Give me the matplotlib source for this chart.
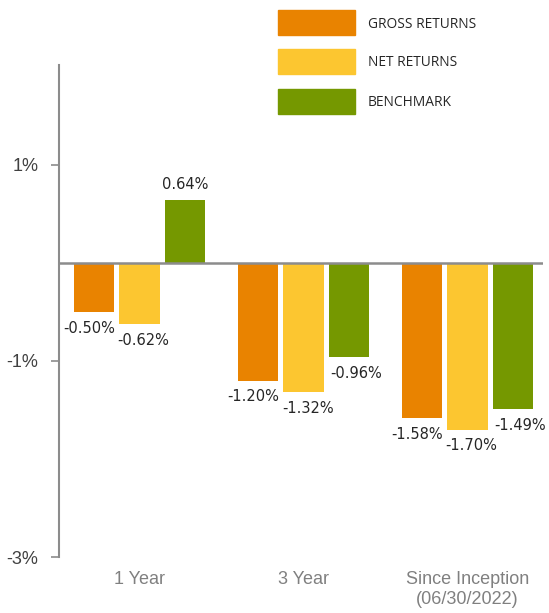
import matplotlib
matplotlib.use("Agg")
from matplotlib import pyplot as plt
from matplotlib.patches import Rectangle
import numpy as np

categories = ["1 Year", "3 Year", "Since Inception\n(06/30/2022)"]
series = ["GROSS RETURNS", "NET RETURNS", "BENCHMARK"]
gross = [-0.50, -1.20, -1.58]
net = [-0.62, -1.32, -1.70]
bench = [0.64, -0.96, -1.49]
colors = ["#E98300", "#FCC630", "#759800"]

fig = plt.figure(figsize=(5.49, 6.13), dpi=100)
ax = fig.add_axes([59/549, 56/613, 484/549, 492/613])

x = np.arange(len(categories))
w = 0.245
off = 0.276
nudge = [-0.03, 0.025, 0.045]
for i, vals in enumerate([gross, net, bench]):
    xs = x + (i - 1) * off
    ax.bar(xs, vals, width=w, color=colors[i], zorder=2)
    for xi, v in zip(xs, vals):
        if v >= 0:
            ax.text(xi, v + 0.08, f"{v:.2f}%", ha="center", va="bottom",
                    fontsize=10.5, color="#262626", family="DejaVu Sans")
        else:
            ax.text(xi + nudge[i], v - 0.09, f"{v:.2f}%", ha="center", va="top",
                    fontsize=10.5, color="#262626", family="DejaVu Sans")

ax.axhline(0, color="#8c8c8c", lw=1.8, zorder=3)
ax.set_xlim(-0.491, 2.46)
ax.set_ylim(-3, 2.02)
ax.set_yticks([1, -1, -3])
ax.set_yticklabels(["1%", "-1%", "-3%"], fontsize=13, color="#404040",
                   family="Liberation Sans")
ax.tick_params(axis="y", length=6, width=1.2, color="#8c8c8c", pad=9)
ax.set_xticks(x)
ax.set_xticklabels(categories, fontsize=13, color="#808080",
                   family="Liberation Sans", linespacing=1.25)
ax.tick_params(axis="x", length=0, pad=10)
for s in ["top", "right", "bottom"]:
    ax.spines[s].set_visible(False)
ax.spines["left"].set_color("#8c8c8c")
ax.spines["left"].set_linewidth(1.5)

# legend drawn by hand
for i, name in enumerate(series):
    top = [10, 49, 89][i]
    fig.patches.append(Rectangle((278/549, 1 - (top + 25)/613), 77/549, 25/613,
                                 transform=fig.transFigure, color=colors[i]))
    fig.text(368/549, 1 - (top + 14)/613, name, va="center", ha="left",
             fontsize=9.9, color="#262626", family="Open Sans")

fig.savefig("out.png", dpi=100)
